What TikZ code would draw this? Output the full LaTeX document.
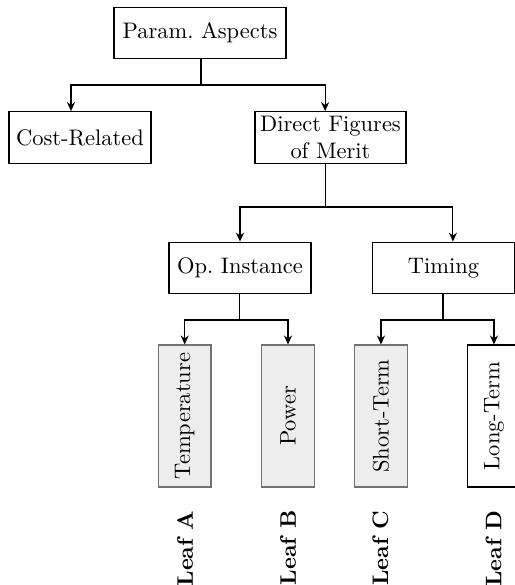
\documentclass[tikz,border=0pt]{standalone}
\usepackage{graphicx}
\usetikzlibrary{arrows.meta}
\tikzset{
  box/.style={draw=black, line width=0.5pt, fill=white, inner sep=2pt, align=center,
    minimum width=63.2pt, minimum height=23pt},
  leafbox/.style={draw=black!55, line width=0.5pt, fill=black!7, inner sep=0pt,
    minimum width=23.4pt, minimum height=63.2pt},
  openleaf/.style={leafbox, draw=black, fill=white},
  tag/.style={inner sep=0pt, anchor=north, font=\bfseries},
  conn/.style={line width=0.5pt, -{Stealth[length=4pt,width=3.6pt]}},
  trunk/.style={line width=0.5pt}
}
\begin{document}
\begin{tikzpicture}[x=0.445pt,y=-0.445pt]
\useasboundingbox (0,0) rectangle (515,585);
\clip (0,0) rectangle (515,585);

% upper levels
\node[box, minimum width=76.5pt] (param) at (200,33) {Param.~Aspects};
\node[box] (cost) at (80,137.5) {Cost-Related};
\node[box, minimum width=67.2pt] (direct) at (330.5,137.5) {Direct Figures\\of Merit};
\node[box] (op) at (240,268) {Op.~Instance};
\node[box] (timing) at (443.5,268) {Timing};

% leaves
\node[leafbox] (temp) at (184.7,416) {\rotatebox{90}{Temperature}};
\node[leafbox] (power) at (288,416) {\rotatebox{90}{Power}};
\node[leafbox] (short) at (381,416) {\rotatebox{90}{Short-Term}};
\node[openleaf] (long) at (494,416) {\rotatebox{90}{Long-Term}};

% leaf tags
\node[tag] (ta) at (185,510) {\rotatebox{90}{Leaf A}};
\node[tag] (tb) at (288,510) {\rotatebox{90}{Leaf B}};
\node[tag] (tc) at (380.5,510) {\rotatebox{90}{Leaf C}};
\node[tag] (td) at (493.5,510) {\rotatebox{90}{Leaf D}};

% branch points
\coordinate (b1) at (201,85);
\coordinate (b2) at (325.5,207);
\coordinate (b3) at (239.5,320);
\coordinate (b4) at (443,320);

% connectors
\draw[trunk] (param.south -| b1) -- (b1);
\draw[conn] (b1) -| ([xshift=-4pt]cost.north);
\draw[conn] (b1) -| ([xshift=-2.4pt]direct.north);

\draw[trunk] (direct.south -| b2) -- (b2);
\draw[conn] (b2) -| (op.north);
\draw[conn] (b2) -| ([xshift=4.2pt]timing.north);

\draw[trunk] (op.south -| b3) -- (b3);
\draw[conn] (b3) -| (temp.north);
\draw[conn] (b3) -| (power.north);

\draw[trunk] (timing.south -| b4) -- (b4);
\draw[conn] (b4) -| (short.north);
\draw[conn] (b4) -| (long.north);
\end{tikzpicture}
\end{document}
